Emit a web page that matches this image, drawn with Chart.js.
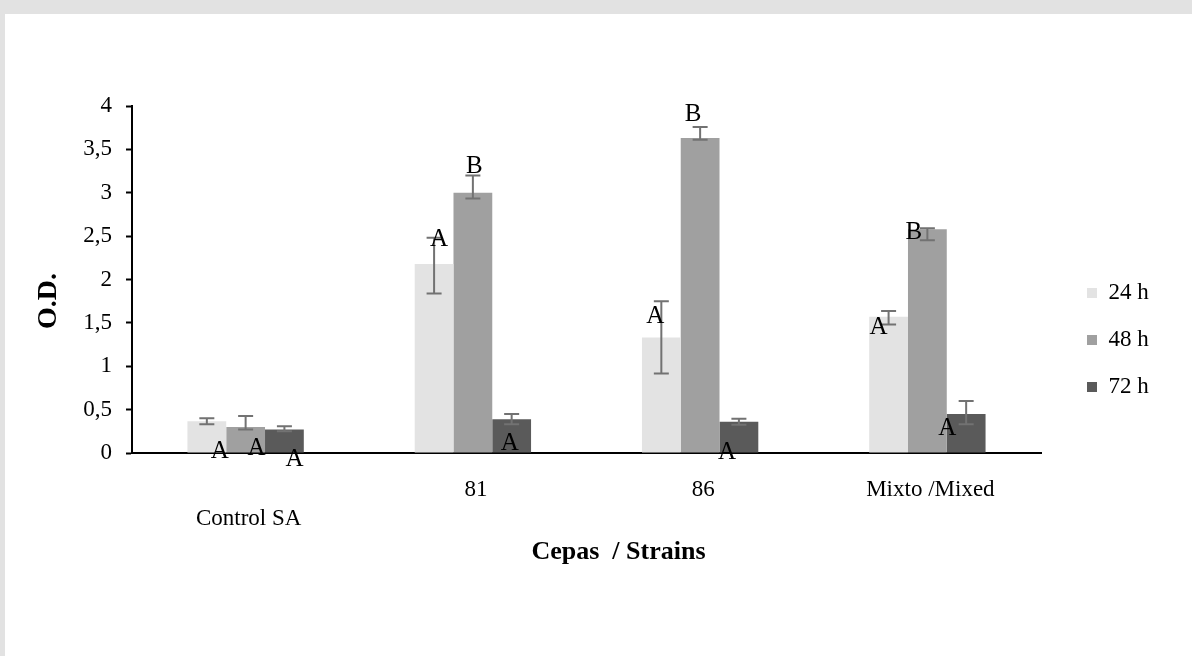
<!DOCTYPE html>
<html>
<head>
<meta charset="utf-8">
<script src="https://cdn.jsdelivr.net/npm/chart.js@4.4.1/dist/chart.umd.min.js"></script>
<style>
  html, body { margin: 0; padding: 0; width: 1192px; height: 656px; overflow: hidden; background: #e2e2e2; }
  #panel { position: absolute; left: 5px; top: 14px; width: 1187px; height: 642px; background: #ffffff; }
  canvas { display: block; }
</style>
</head>
<body>
<div id="panel"><canvas id="chart"></canvas></div>
<script>
// Strains on the category axis (the control label sits one line lower)
const strains = [['', 'Control SA'], '81', '86', 'Mixto /Mixed'];
const seriesNames = ['24 h', '48 h', '72 h'];

// Mean optical density per strain and incubation time
const od24 = [0.365, 2.18, 1.33, 1.57];
const od48 = [0.30, 3.00, 3.63, 2.58];
const od72 = [0.27, 0.39, 0.36, 0.45];

// Error bar extents above / below each mean
const up24 = [0.035, 0.30, 0.42, 0.067];
const dn24 = [0.035, 0.34, 0.415, 0.09];
const up48 = [0.127, 0.20, 0.128, 0.01];
const dn48 = [0.03, 0.067, 0.018, 0.128];
const up72 = [0.037, 0.06, 0.036, 0.15];
const dn72 = [0.02, 0.06, 0.033, 0.12];

// Significance letters
const sig24 = ['A', 'A', 'A', 'A'];
const sig48 = ['A', 'B', 'B', 'B'];
const sig72 = ['A', 'A', 'A', 'A'];

// Value axis tick labels (decimal comma)
const yTickLabels = ['0', '0,5', '1', '1,5', '2', '2,5', '3', '3,5', '4'];

const SERIF = "'Times New Roman', 'Liberation Serif', serif";
Chart.defaults.font.family = SERIF;
Chart.defaults.color = '#000';

const errorBars = {
  id: 'errorBars',
  afterDatasetsDraw(chart, args, opts) {
    const { ctx } = chart;
    const y = chart.scales.y;
    ctx.save();
    ctx.strokeStyle = opts.color;
    ctx.lineWidth = opts.width;
    chart.data.datasets.forEach((ds, di) => {
      chart.getDatasetMeta(di).data.forEach((bar, i) => {
        const v = ds.data[i];
        const top = y.getPixelForValue(v + ds.errUp[i]);
        const bot = y.getPixelForValue(v - ds.errDown[i]);
        const x = bar.x, h = opts.cap / 2;
        ctx.beginPath();
        ctx.moveTo(x, top); ctx.lineTo(x, bot);
        ctx.moveTo(x - h, top); ctx.lineTo(x + h, top);
        ctx.moveTo(x - h, bot); ctx.lineTo(x + h, bot);
        ctx.stroke();
      });
    });
    ctx.restore();
  }
};

const sigLetters = {
  id: 'sigLetters',
  afterDraw(chart, args, opts) {
    const { ctx } = chart;
    const y = chart.scales.y;
    ctx.save();
    ctx.font = opts.size + 'px ' + SERIF;
    ctx.fillStyle = '#000';
    ctx.textAlign = 'center';
    ctx.textBaseline = 'middle';
    chart.data.datasets.forEach((ds, di) => {
      chart.getDatasetMeta(di).data.forEach((bar, i) => {
        const [dx, dy] = opts.nudge[di][i];
        ctx.fillText(ds.letters[i], bar.x + dx, y.getPixelForValue(ds.data[i]) + dy);
      });
    });
    ctx.restore();
  }
};

const axisCaptions = {
  id: 'axisCaptions',
  afterDraw(chart, args, opts) {
    const { ctx, chartArea: a } = chart;
    ctx.save();
    ctx.fillStyle = '#000';
    ctx.textAlign = 'center';
    ctx.textBaseline = 'middle';
    ctx.font = 'bold ' + opts.xSize + 'px ' + SERIF;
    ctx.fillText(opts.x, (a.left + a.right) / 2 + opts.xShift, a.bottom + opts.xDrop);
    ctx.font = 'bold ' + opts.ySize + 'px ' + SERIF;
    ctx.translate(a.left - opts.yGap, (a.top + a.bottom) / 2 + opts.yShift);
    ctx.rotate(-Math.PI / 2);
    ctx.fillText(opts.y, 0, 0);
    ctx.restore();
  }
};

new Chart(document.getElementById('chart'), {
  type: 'bar',
  data: {
    labels: strains,
    datasets: [
      { label: seriesNames[0], data: od24, errUp: up24, errDown: dn24, letters: sig24, backgroundColor: '#e3e3e3' },
      { label: seriesNames[1], data: od48, errUp: up48, errDown: dn48, letters: sig48, backgroundColor: '#a0a0a0' },
      { label: seriesNames[2], data: od72, errUp: up72, errDown: dn72, letters: sig72, backgroundColor: '#5a5a5a' }
    ]
  },
  options: {
    responsive: true,
    maintainAspectRatio: false,
    animation: false,
    events: [],
    datasets: { bar: { borderWidth: 0, barPercentage: 1, categoryPercentage: 0.512 } },
    layout: { padding: { left: 0, top: 92, right: 39, bottom: 82 } },
    scales: {
      x: {
        z: 1,
        grid: { display: false },
        border: { display: true, color: '#000', width: 2 },
        ticks: { font: { size: 23, lineHeight: 1.25 }, color: '#000', padding: 15, labelOffset: 3, maxRotation: 0, autoSkip: false },
        afterFit(s) { s.height = 121; }
      },
      y: {
        min: 0, max: 4,
        grid: { display: true, drawOnChartArea: false, drawTicks: true, tickLength: 6, tickColor: '#000', tickWidth: 2 },
        border: { display: true, color: '#000', width: 2 },
        ticks: { stepSize: 0.5, font: { size: 23 }, color: '#000', padding: 14,
                 callback: (v) => yTickLabels[Math.round(v / 0.5)] },
        afterFit(s) { s.width = 127; }
      },
      gap: {
        type: 'linear', position: 'right', display: true,
        grid: { display: false }, ticks: { display: false }, border: { display: false },
        afterFit(s) { s.width = 22; }
      }
    },
    plugins: {
      legend: {
        position: 'right', align: 'center', maxWidth: 90,
        labels: { boxWidth: 10, boxHeight: 10, padding: 24, color: '#000', font: { size: 23 } }
      },
      tooltip: { enabled: false },
      errorBars: { color: '#727272', width: 2, cap: 15 },
      sigLetters: {
        size: 25,
        nudge: [
          [[13, 30], [5, -24], [-6, -21], [-10, 11]],
          [[11, 21], [1.5, -26], [-7, -24], [-13.5, 3]],
          [[10, 30], [-2, 24], [-12, 31], [-19, 14]]
        ]
      },
      axisCaptions: { x: 'Cepas  / Strains', y: 'O.D.', xSize: 26, ySize: 28, xShift: 32, xDrop: 99, yGap: 83, yShift: 21.5 }
    }
  },
  plugins: [errorBars, sigLetters, axisCaptions]
});
</script>
</body>
</html>
